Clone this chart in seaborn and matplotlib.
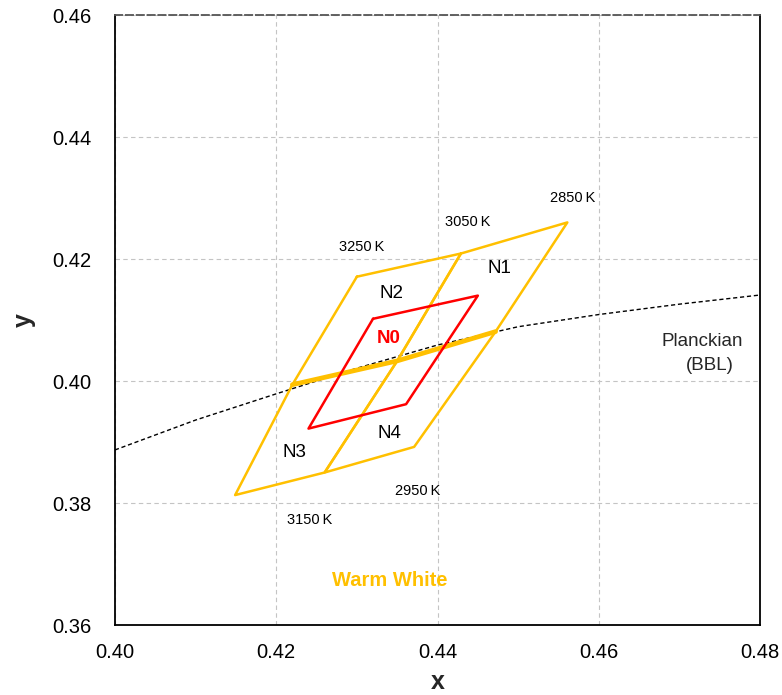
import numpy as np
import pandas as pd
import seaborn as sns
import matplotlib.pyplot as plt

# Planckian locus (black-body line) in CIE 1931 xy
bbl_x = [0.400, 0.410, 0.420, 0.430, 0.440, 0.450, 0.460, 0.470, 0.480]
bbl_y = [0.3887, 0.3936, 0.3979, 0.4021, 0.4059, 0.4089, 0.4109, 0.4126, 0.4141]

# Sub-bins of the 3000 K warm white quadrangle (corners, clockwise)
n1_x = [0.4429, 0.4561, 0.4472, 0.4350]
n1_y = [0.4209, 0.4260, 0.4081, 0.4033]
n2_x = [0.4300, 0.4429, 0.4350, 0.4220]
n2_y = [0.4171, 0.4209, 0.4033, 0.3994]
n3_x = [0.4220, 0.4350, 0.4260, 0.4149]
n3_y = [0.3994, 0.4033, 0.3850, 0.3813]
n4_x = [0.4350, 0.4472, 0.4371, 0.4260]
n4_y = [0.4033, 0.4081, 0.3892, 0.3850]

# Central bin N0
n0_x = [0.4320, 0.4450, 0.4361, 0.4240]
n0_y = [0.4102, 0.4140, 0.3962, 0.3922]

# CCT annotations
cct_labels = ["2850\u2009K", "3050\u2009K", "3250\u2009K", "2950\u2009K", "3150\u2009K"]
cct_x = [0.4568, 0.4437, 0.4306, 0.4375, 0.4241]
cct_y = [0.4300, 0.4260, 0.4220, 0.3819, 0.3772]

# Bin names
bin_labels = ["N1", "N2", "N3", "N4"]
bin_x = [0.4477, 0.4343, 0.4222, 0.4340]
bin_y = [0.4184, 0.4144, 0.3882, 0.3914]

GOLD = "#FFC000"
RED = "#FF0000"

sns.set_theme(style="white")
plt.rcParams["font.family"] = ["Liberation Sans", "DejaVu Sans"]

fig = plt.figure(figsize=(7.82, 6.95), dpi=100)
ax = fig.add_axes([0.147, 0.1007, 0.825, 0.8777])


def closed(xs, ys):
    return pd.DataFrame({"x": list(xs) + [xs[0]], "y": list(ys) + [ys[0]],
                         "o": range(len(xs) + 1)})


# Planckian locus
sns.lineplot(data=pd.DataFrame({"x": bbl_x, "y": bbl_y}), x="x", y="y",
             sort=False, estimator=None, color="black", lw=1.0,
             linestyle=(0, (3, 2)), ax=ax, zorder=3)

# Warm white sub-bins
for xs, ys in [(n1_x, n1_y), (n2_x, n2_y), (n3_x, n3_y), (n4_x, n4_y)]:
    sns.lineplot(data=closed(xs, ys), x="x", y="y", sort=False,
                 estimator=None, color=GOLD, lw=1.8, ax=ax, zorder=4)

# shared middle edge drawn by both upper and lower bins
mid_x = n3_x[:2] + n4_x[1:2]
mid_y = n3_y[:2] + n4_y[1:2]
sns.lineplot(data=pd.DataFrame({"x": mid_x, "y": mid_y}), x="x", y="y",
             sort=False, estimator=None, color=GOLD, lw=3.4, ax=ax, zorder=4)

# N0 bin
sns.lineplot(data=closed(n0_x, n0_y), x="x", y="y", sort=False,
             estimator=None, color=RED, lw=1.8, ax=ax, zorder=5)

for t, x, y in zip(cct_labels, cct_x, cct_y):
    ax.text(x, y, t, ha="center", va="center", fontsize=10.5, color="black")
for t, x, y in zip(bin_labels, bin_x, bin_y):
    ax.text(x, y, t, ha="center", va="center", fontsize=13.5, color="black")
ax.text(0.4340, 0.4070, "N0", ha="center", va="center", fontsize=13.5,
        color=RED, fontweight="bold")
ax.text(0.4728, 0.4064, "Planckian", ha="center", va="center", fontsize=13.5)
ax.text(0.4738, 0.4026, "(BBL)", ha="center", va="center", fontsize=13.5)
ax.text(0.4341, 0.3673, "Warm White", ha="center", va="center", fontsize=14.5,
        color=GOLD, fontweight="bold")

ax.set_xlim(0.40, 0.48)
ax.set_ylim(0.36, 0.46)
ax.set_xticks(np.arange(0.40, 0.4801, 0.02))
ax.set_yticks(np.arange(0.36, 0.4601, 0.02))
ax.xaxis.set_major_formatter(plt.FormatStrFormatter("%.2f"))
ax.yaxis.set_major_formatter(plt.FormatStrFormatter("%.2f"))
ax.tick_params(axis="both", direction="in", length=4, width=1.2,
               colors="black", labelsize=14.5)
ax.tick_params(axis="x", pad=13)
ax.tick_params(axis="y", pad=17)
ax.grid(True, color="#c4c4c4", linestyle=(0, (4, 3)), lw=0.8)

for side in ["left", "bottom", "right"]:
    ax.spines[side].set_color("black")
    ax.spines[side].set_linewidth(1.3)
ax.spines["top"].set_color("#555555")
ax.spines["top"].set_linestyle((0, (4, 2)))
ax.spines["top"].set_linewidth(1.3)

ax.set_xlabel("x", fontsize=18, fontweight="bold", labelpad=6)
ax.set_ylabel("y", fontsize=18, fontweight="bold", labelpad=12)

fig.savefig("out.png", dpi=100, facecolor="white")
